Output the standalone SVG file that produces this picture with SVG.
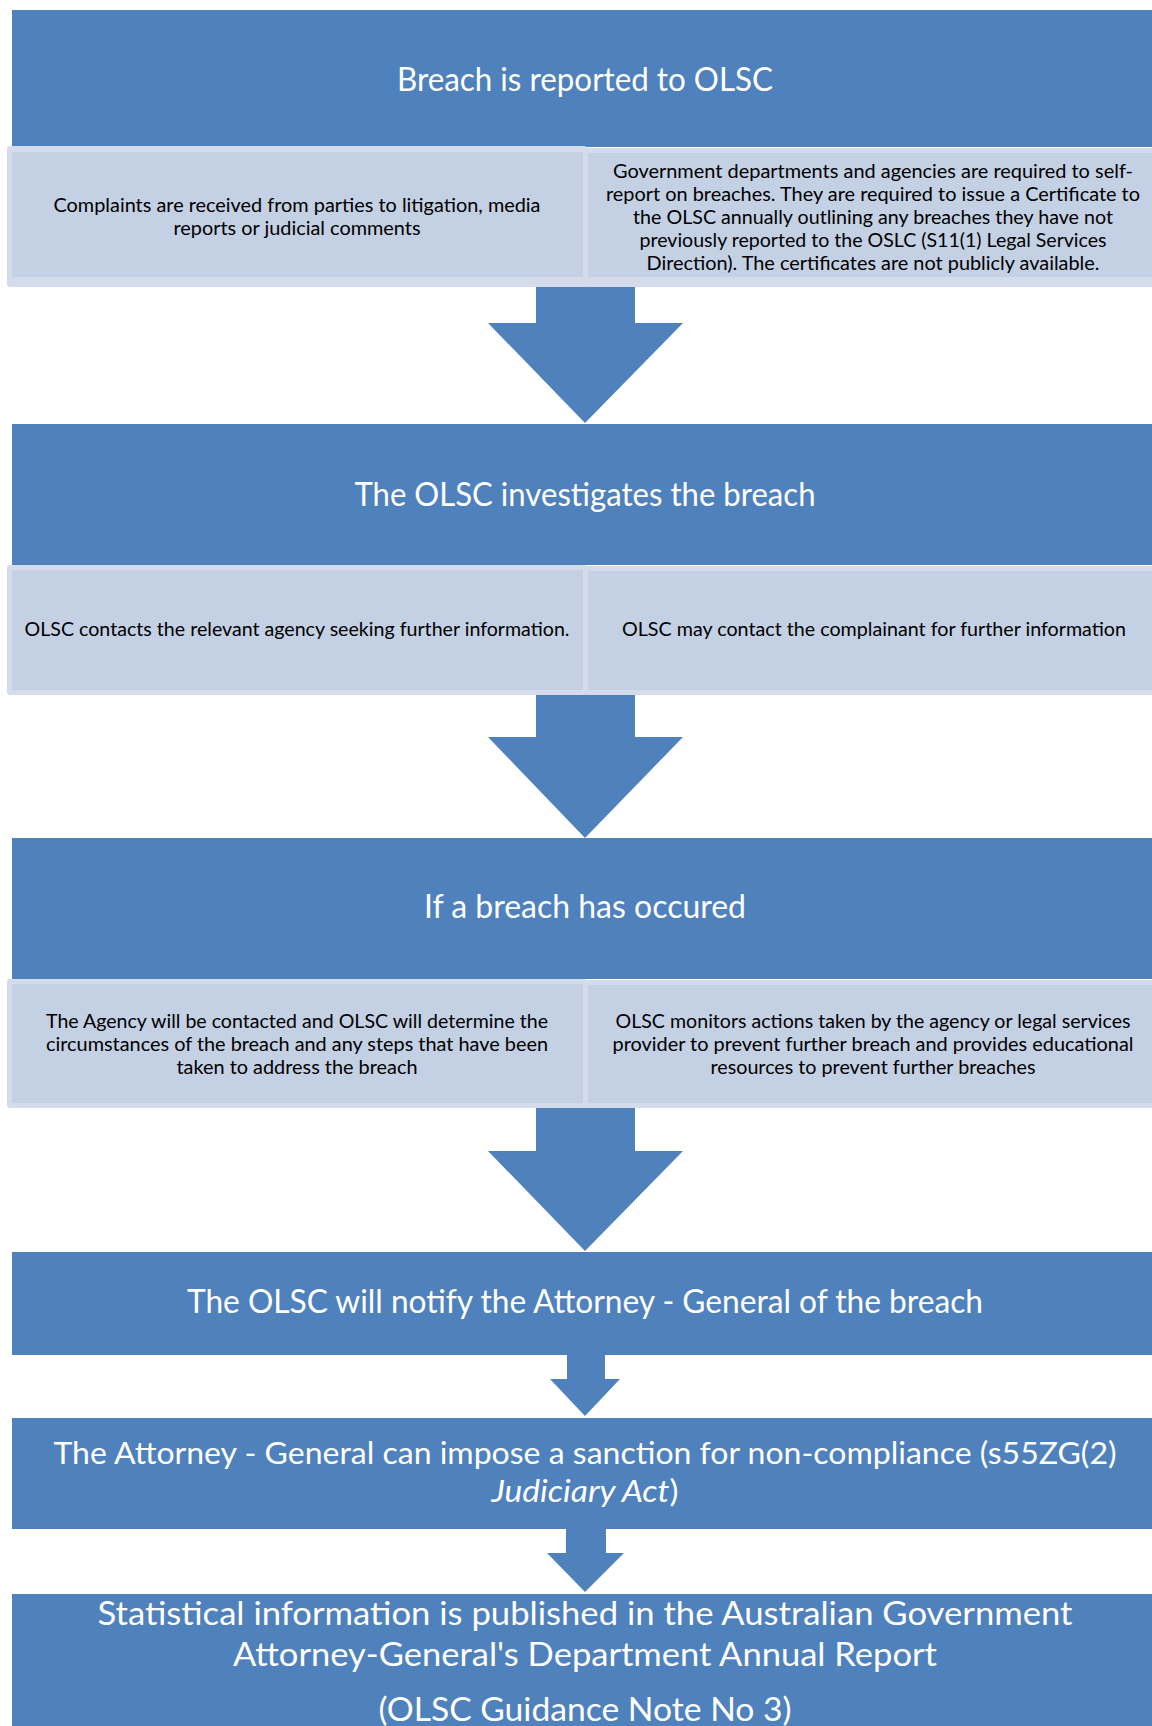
<svg xmlns="http://www.w3.org/2000/svg" width="1152" height="1726" viewBox="0 0 1152 1726">
<style>
.hdr{fill:#4F81BD}
.subo{fill:#D4DCEB}
.subi{fill:#C4D0E3}
.arr{fill:#4F81BD}
.t{font-family:Lato,"Open Sans","Liberation Sans",sans-serif;fill:#fff;text-anchor:middle;font-size:32px}
.s{font-family:Lato,"Open Sans","Liberation Sans",sans-serif;fill:#000;text-anchor:middle;font-size:18.5px}
</style>
<rect width="1152" height="1726" fill="#fff"/>
<g id="connectors">
<path class="arr" d="M536,280 H635 V323 H683 L585,423 L488,323 H536 Z"/>
<path class="arr" d="M536,690 H635 V737 H683 L585,838 L488,737 H536 Z"/>
<path class="arr" d="M536,1104 H635 V1151 H683 L585,1251 L488,1151 H536 Z"/>
<path class="arr" d="M567,1355 H605 V1379 H620 L585,1416 L550,1379 H567 Z"/>
<path class="arr" d="M566,1529 H606 V1553 H624 L585,1592 L547,1553 H566 Z"/>
</g>
<g id="n1">
<rect class="hdr" x="12" y="10" width="1140" height="137"/>
<text class="t" x="585" y="91" textLength="376" lengthAdjust="spacingAndGlyphs">Breach is reported to OLSC</text>
</g>
<g id="n1a">
<rect class="subo" x="7" y="146" width="580" height="141" rx="3"/>
<rect class="subi" x="12" y="152" width="571" height="125"/>
<text class="s" x="297" y="211.5" textLength="487" lengthAdjust="spacingAndGlyphs">Complaints are received from parties to litigation, media</text>
<text class="s" x="297" y="234.5" textLength="247" lengthAdjust="spacingAndGlyphs">reports or judicial comments</text>
</g>
<g id="n1b">
<rect class="subo" x="585" y="148" width="567" height="139"/>
<rect class="subi" x="588" y="153" width="564" height="124"/>
<text class="s" x="873" y="178" textLength="520" lengthAdjust="spacingAndGlyphs">Government departments and agencies are required to self-</text>
<text class="s" x="873" y="200.5" textLength="534" lengthAdjust="spacingAndGlyphs">report on breaches. They are required to issue a Certificate to</text>
<text class="s" x="873" y="224" textLength="480" lengthAdjust="spacingAndGlyphs">the OLSC annually outlining any breaches they have not</text>
<text class="s" x="873" y="247" textLength="467" lengthAdjust="spacingAndGlyphs">previously reported to the OSLC (S11(1) Legal Services</text>
<text class="s" x="873" y="269.5" textLength="453" lengthAdjust="spacingAndGlyphs">Direction). The certificates are not publicly available.</text>
</g>
<g id="n2">
<rect class="hdr" x="12" y="424" width="1140" height="141"/>
<text class="t" x="585" y="506" textLength="461" lengthAdjust="spacingAndGlyphs">The OLSC investigates the breach</text>
</g>
<g id="n2a">
<rect class="subo" x="7" y="565" width="580" height="130" rx="3"/>
<rect class="subi" x="12" y="570" width="571" height="120"/>
<text class="s" x="297" y="636" textLength="545" lengthAdjust="spacingAndGlyphs">OLSC contacts the relevant agency seeking further information.</text>
</g>
<g id="n2b">
<rect class="subo" x="585" y="566" width="567" height="129"/>
<rect class="subi" x="588" y="571" width="564" height="119"/>
<text class="s" x="874" y="636" textLength="504" lengthAdjust="spacingAndGlyphs">OLSC may contact the complainant for further information</text>
</g>
<g id="n3">
<rect class="hdr" x="12" y="838" width="1140" height="141"/>
<text class="t" x="585" y="918" textLength="322" lengthAdjust="spacingAndGlyphs">If a breach has occured</text>
</g>
<g id="n3a">
<rect class="subo" x="7" y="979" width="580" height="129" rx="3"/>
<rect class="subi" x="12" y="984" width="571" height="119"/>
<text class="s" x="297" y="1027.5" textLength="502" lengthAdjust="spacingAndGlyphs">The Agency will be contacted and OLSC will determine the</text>
<text class="s" x="297" y="1050.5" textLength="502" lengthAdjust="spacingAndGlyphs">circumstances of the breach and any steps that have been</text>
<text class="s" x="297" y="1073.5" textLength="241" lengthAdjust="spacingAndGlyphs">taken to address the breach</text>
</g>
<g id="n3b">
<rect class="subo" x="585" y="980" width="567" height="128"/>
<rect class="subi" x="588" y="985" width="564" height="118"/>
<text class="s" x="873" y="1027.5" textLength="515" lengthAdjust="spacingAndGlyphs">OLSC monitors actions taken by the agency or legal services</text>
<text class="s" x="873" y="1050.5" textLength="521" lengthAdjust="spacingAndGlyphs">provider to prevent further breach and provides educational</text>
<text class="s" x="873" y="1073.5" textLength="325" lengthAdjust="spacingAndGlyphs">resources to prevent further breaches</text>
</g>
<g id="n4">
<rect class="hdr" x="12" y="1252" width="1140" height="103"/>
<text class="t" x="585" y="1313" textLength="796" lengthAdjust="spacingAndGlyphs">The OLSC will notify the Attorney - General of the breach</text>
</g>
<g id="n5">
<rect class="hdr" x="12" y="1418" width="1140" height="111"/>
<text class="t" x="585" y="1464" style="font-size:31px" textLength="1063" lengthAdjust="spacingAndGlyphs">The Attorney - General can impose a sanction for non-compliance (s55ZG(2)</text>
<text class="t" x="585" y="1502" style="font-size:31px" textLength="187" lengthAdjust="spacingAndGlyphs"><tspan font-style="italic">Judiciary Act</tspan>)</text>
</g>
<g id="n6">
<rect class="hdr" x="12" y="1594" width="1140" height="132"/>
<text class="t" x="585" y="1625" style="font-size:33px" textLength="975" lengthAdjust="spacingAndGlyphs">Statistical information is published in the Australian Government</text>
<text class="t" x="585" y="1666" style="font-size:33px" textLength="704" lengthAdjust="spacingAndGlyphs">Attorney-General's Department Annual Report</text>
<text class="t" x="585" y="1721" style="font-size:33px" textLength="413" lengthAdjust="spacingAndGlyphs">(OLSC Guidance Note No 3)</text>
</g>
</svg>
